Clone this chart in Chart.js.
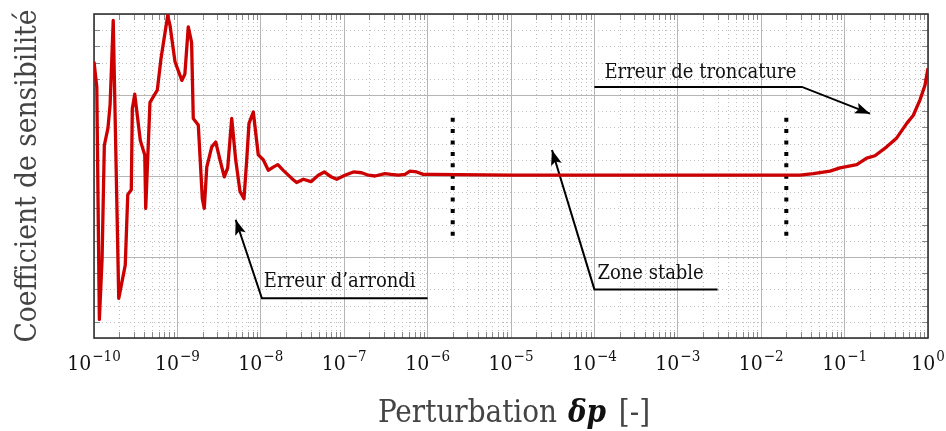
<!DOCTYPE html>
<html lang="fr">
<head>
<meta charset="UTF-8">
<title>Coefficient de sensibilité</title>
<script src="https://cdn.jsdelivr.net/npm/chart.js@4.4.1/dist/chart.umd.min.js"></script>
<style>
  html, body { margin: 0; padding: 0; background: #fff; }
</style>
</head>
<body>
<canvas id="chart-sens" width="946" height="431"></canvas>
<script>
  // --- données ---
  const tickExps = [-10, -9, -8, -7, -6, -5, -4, -3, -2, -1, 0];

  const perturbation = [
    1.00e-10, 1.08e-10, 1.16e-10, 1.25e-10, 1.33e-10, 1.47e-10, 1.56e-10, 1.70e-10,
    1.98e-10, 2.37e-10, 2.54e-10, 2.80e-10, 2.88e-10, 3.08e-10, 3.59e-10, 4.06e-10, 4.17e-10,
    4.69e-10, 5.74e-10, 6.36e-10, 7.65e-10, 8.15e-10, 9.36e-10,
    1.13e-9, 1.23e-9, 1.35e-9, 1.48e-9, 1.55e-9, 1.78e-9, 1.99e-9, 2.10e-9, 2.25e-9, 2.58e-9, 2.88e-9,
    3.24e-9, 3.65e-9, 4.01e-9, 4.48e-9, 5.00e-9, 5.63e-9, 6.29e-9, 6.78e-9, 7.22e-9, 8.13e-9, 9.33e-9,
    1.07e-8, 1.23e-8, 1.41e-8, 1.60e-8, 1.86e-8, 2.35e-8, 2.69e-8, 3.24e-8, 4.00e-8, 4.89e-8, 5.77e-8, 6.95e-8, 8.13e-8,
    1.02e-7, 1.29e-7, 1.62e-7, 1.95e-7, 2.34e-7, 3.08e-7, 3.64e-7, 4.45e-7, 5.36e-7, 6.15e-7, 7.40e-7, 8.87e-7,
    1.12e-6, 1e-5, 1e-4, 1e-3, 1e-2,
    1.68e-2, 2.92e-2, 4.22e-2, 6.68e-2, 8.81e-2, 0.140, 0.184, 0.231, 0.320, 0.422, 0.556, 0.667, 0.802, 0.920, 1.0
  ];
  const sensibilite = [
    1.41, 1.10, -1.77, -1.02, 0.38, 0.59, 0.88, 1.92,
    -1.51, -1.10, -0.23, -0.17, 0.83, 1.01, 0.44, 0.26, -0.40,
    0.91, 1.06, 1.45, 1.98, 1.86, 1.41,
    1.18, 1.26, 1.84, 1.65, 0.71, 0.63, -0.28, -0.40, 0.11, 0.36, 0.42,
    0.20, -0.01, 0.10, 0.71, 0.20, -0.19, -0.28, 0.20, 0.65, 0.79, 0.26,
    0.20, 0.07, 0.11, 0.14, 0.07, -0.03, -0.08, -0.04, -0.07, 0.01, 0.05, -0.01, -0.04,
    0.01, 0.05, 0.04, 0.01, 0.00, 0.03, 0.02, 0.01, 0.02, 0.06, 0.05, 0.02,
    0.02, 0.01, 0.01, 0.01, 0.01,
    0.01, 0.01, 0.03, 0.06, 0.10, 0.14, 0.22, 0.25, 0.36, 0.47, 0.65, 0.75, 0.94, 1.12, 1.33
  ];

  // limites de la zone stable (pointillés noirs)
  const bornesX = [2e-6, 2e-2];
  const bornesY = [0.72, -0.75];

  // flèches (la pointe en premier)
  const arrondiX = [5.0e-9, 1.03e-8, 1.0e-6];
  const arrondiY = [-0.54, -1.51, -1.51];
  const stableX = [3.1e-5, 1.0e-4, 3.0e-3];
  const stableY = [0.32, -1.40, -1.40];
  const troncX = [0.202, 3.08e-2, 1.0e-4];
  const troncY = [0.77, 1.10, 1.10];

  const serif = "'DejaVu Serif Condensed', 'DejaVu Serif', serif";

  function pts(xs, ys) {
    return xs.map((x, i) => ({ x: x, y: ys[i] }));
  }

  function arrowSet(xs, ys) {
    return {
      data: pts(xs, ys),
      borderColor: "#000",
      borderWidth: 2,
      pointRadius: 0,
      tension: 0,
      isArrow: true,
    };
  }

  const datasets = [
    {
      label: "sensibilite",
      data: pts(perturbation, sensibilite),
      borderColor: "#cc0000",
      borderWidth: 3.3,
      pointRadius: 0,
      tension: 0,
      borderJoinStyle: "round",
    },
    {
      data: pts([bornesX[0], bornesX[0]], bornesY),
      borderColor: "#000",
      borderWidth: 4,
      borderDash: [4, 7.4],
      pointRadius: 0,
    },
    {
      data: pts([bornesX[1], bornesX[1]], bornesY),
      borderColor: "#000",
      borderWidth: 4,
      borderDash: [4, 7.4],
      pointRadius: 0,
    },
    arrowSet(arrondiX, arrondiY),
    arrowSet(stableX, stableY),
    arrowSet(troncX, troncY),
  ];

  // grille secondaire, cadre, pointes de flèche et textes
  const decor = {
    id: "decor",
    beforeDatasetsDraw(chart) {
      const ctx = chart.ctx;
      const a = chart.chartArea;
      const sx = chart.scales.x;
      const sy = chart.scales.y;
      ctx.save();
      // grille mineure en pointillés
      ctx.strokeStyle = "#c0c0c0";
      ctx.lineWidth = 1;
      ctx.setLineDash([1, 3]);
      const minorX = [];
      for (let e = -10; e < 0; e++) {
        for (let m = 2; m <= 9; m++) minorX.push(m * Math.pow(10, e));
      }
      minorX.forEach((v) => {
        const px = Math.round(sx.getPixelForValue(v)) + 0.5;
        ctx.beginPath();
        ctx.moveTo(px, a.top);
        ctx.lineTo(px, a.bottom);
        ctx.stroke();
      });
      const minorY = [];
      for (let k = -20; k <= 20; k += 2) {
        if (k % 10 !== 0) minorY.push(k / 10);
      }
      minorY.forEach((v) => {
        const py = Math.round(sy.getPixelForValue(v)) + 0.5;
        ctx.beginPath();
        ctx.moveTo(a.left, py);
        ctx.lineTo(a.right, py);
        ctx.stroke();
      });
      // petites graduations intérieures
      ctx.setLineDash([]);
      ctx.strokeStyle = "#8a8a8a";
      minorX.forEach((v) => {
        const px = Math.round(sx.getPixelForValue(v)) + 0.5;
        ctx.beginPath();
        ctx.moveTo(px, a.bottom);
        ctx.lineTo(px, a.bottom - 6);
        ctx.moveTo(px, a.top);
        ctx.lineTo(px, a.top + 6);
        ctx.stroke();
      });
      minorY.forEach((v) => {
        const py = Math.round(sy.getPixelForValue(v)) + 0.5;
        ctx.beginPath();
        ctx.moveTo(a.left, py);
        ctx.lineTo(a.left + 6, py);
        ctx.moveTo(a.right, py);
        ctx.lineTo(a.right - 6, py);
        ctx.stroke();
      });
      // cadre
      ctx.strokeStyle = "#333";
      ctx.lineWidth = 1.6;
      ctx.strokeRect(a.left, a.top, a.right - a.left, a.bottom - a.top);
      ctx.restore();
    },
    afterDatasetsDraw(chart) {
      const ctx = chart.ctx;
      const sx = chart.scales.x;
      const sy = chart.scales.y;
      ctx.save();
      // pointes de flèche
      chart.data.datasets.forEach((ds) => {
        if (!ds.isArrow) return;
        const tx = sx.getPixelForValue(ds.data[0].x);
        const ty = sy.getPixelForValue(ds.data[0].y);
        const fx = sx.getPixelForValue(ds.data[1].x);
        const fy = sy.getPixelForValue(ds.data[1].y);
        const ang = Math.atan2(ty - fy, tx - fx);
        const len = 15, half = 5.5;
        ctx.fillStyle = "#000";
        ctx.beginPath();
        ctx.moveTo(tx, ty);
        ctx.lineTo(tx - len * Math.cos(ang) + half * Math.sin(ang), ty - len * Math.sin(ang) - half * Math.cos(ang));
        ctx.lineTo(tx - len * Math.cos(ang) * 0.8, ty - len * Math.sin(ang) * 0.8);
        ctx.lineTo(tx - len * Math.cos(ang) - half * Math.sin(ang), ty - len * Math.sin(ang) + half * Math.cos(ang));
        ctx.closePath();
        ctx.fill();
      });
      // étiquettes des flèches
      ctx.fillStyle = "#111";
      ctx.font = "20px " + serif;
      ctx.textAlign = "left";
      ctx.textBaseline = "alphabetic";
      ctx.fillText("Erreur d\u2019arrondi", sx.getPixelForValue(arrondiX[1]) + 2, sy.getPixelForValue(arrondiY[1]) - 11);
      ctx.fillText("Zone stable", sx.getPixelForValue(stableX[1]) + 3, sy.getPixelForValue(stableY[1]) - 10);
      ctx.fillText("Erreur de troncature", sx.getPixelForValue(troncX[2]) + 10, sy.getPixelForValue(troncY[2]) - 9);
      ctx.restore();
    },
    afterDraw(chart) {
      const ctx = chart.ctx;
      const a = chart.chartArea;
      const sx = chart.scales.x;
      ctx.save();
      ctx.fillStyle = "#111";
      ctx.textBaseline = "alphabetic";
      ctx.textAlign = "left";
      // étiquettes 10^n
      tickExps.forEach((e) => {
        const base = "10";
        const sup = e < 0 ? "\u2212" + Math.abs(e) : String(e);
        ctx.font = "21px " + serif;
        const wb = ctx.measureText(base).width;
        ctx.font = "15px " + serif;
        const ws = ctx.measureText(sup).width;
        const x0 = sx.getPixelForValue(Math.pow(10, e)) - (wb + ws + 1) / 2;
        ctx.font = "21px " + serif;
        ctx.fillText(base, x0, a.bottom + 32);
        ctx.font = "15px " + serif;
        ctx.fillText(sup, x0 + wb + 1, a.bottom + 23);
      });
      // titre de l'axe x
      const p1 = "Perturbation ";
      const p2 = "\u03B4p";
      const p3 = " [-]";
      const f1 = "31px " + serif;
      const f2 = "italic bold 31px " + serif;
      ctx.font = f1;
      const w1 = ctx.measureText(p1).width;
      const w3 = ctx.measureText(p3).width;
      ctx.font = f2;
      const w2 = ctx.measureText(p2).width + 6;
      let x = (a.left + a.right) / 2 + 3 - (w1 + w2 + w3) / 2;
      const yb = a.bottom + 84;
      ctx.font = f1;
      ctx.fillStyle = "#444";
      ctx.fillText(p1, x, yb);
      ctx.font = f2;
      ctx.fillStyle = "#111";
      ctx.fillText(p2, x + w1 + 2, yb);
      ctx.font = f1;
      ctx.fillStyle = "#444";
      ctx.fillText(p3, x + w1 + w2, yb);
      // titre de l'axe y
      ctx.translate(36, (a.top + a.bottom) / 2);
      ctx.rotate(-Math.PI / 2);
      ctx.textAlign = "center";
      ctx.font = "29.5px " + serif;
      ctx.fillText("Coefficient de sensibilit\u00E9", 0, 0);
      ctx.restore();
    },
  };

  const config = {
    type: "line",
    data: { datasets: datasets },
    options: {
      responsive: false,
      animation: false,
      layout: { padding: { left: 94, right: 18, top: 14, bottom: 93 } },
      plugins: {
        legend: { display: false },
        tooltip: { enabled: false },
      },
      scales: {
        x: {
          type: "logarithmic",
          min: 1e-10,
          max: 1,
          afterBuildTicks: (s) => {
            s.ticks = tickExps.map((e) => ({ value: Math.pow(10, e) }));
          },
          ticks: { display: false },
          grid: { color: "#b5b5b5", lineWidth: 1, drawTicks: false },
          border: { display: false },
        },
        y: {
          min: -2,
          max: 2,
          ticks: { display: false, stepSize: 1 },
          grid: { color: "#b5b5b5", lineWidth: 1, drawTicks: false },
          border: { display: false },
        },
      },
    },
    plugins: [decor],
  };

  const chart = new Chart(document.getElementById("chart-sens").getContext("2d"), config);
</script>
</body>
</html>
